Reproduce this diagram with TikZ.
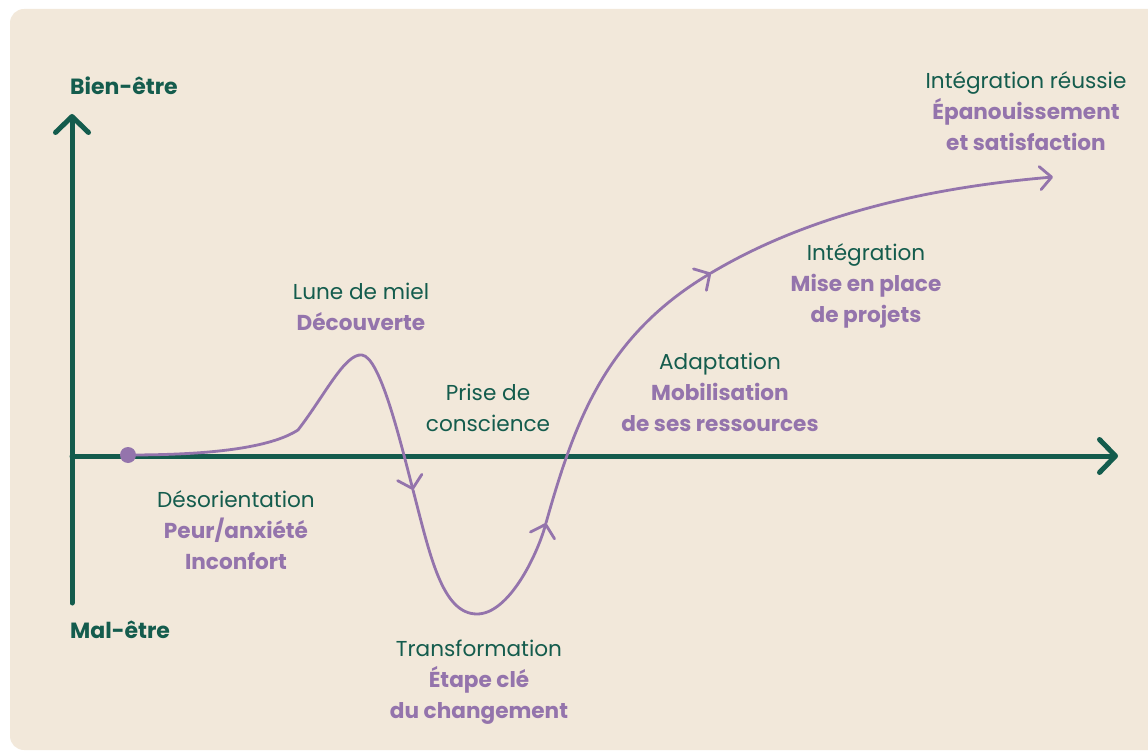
\documentclass[tikz,border=0pt]{standalone}
\usepackage{fontspec}
\setmainfont{Poppins}
\usetikzlibrary{arrows.meta}

\definecolor{paper}{RGB}{242,232,218}
\definecolor{axisgreen}{RGB}{20,92,77}
\definecolor{curvepurple}{RGB}{148,116,172}

% purple bold keyword inside a label
\newcommand\pv[1]{\textcolor{curvepurple}{\bfseries #1}}

\begin{document}
\begin{tikzpicture}[x=1pt,y=-1pt,
  axisline/.style={draw=axisgreen, line width=5pt, line cap=round,
    -{Straight Barb[length=16pt,width=33pt,round]}},
  curveline/.style={draw=curvepurple, line width=2.8pt, line cap=round},
  midtip/.style={-{Straight Barb[length=11.5pt,width=25pt,round]}},
  endtip/.style={-{Straight Barb[length=11.5pt,width=23pt,round]}},
  lbl/.style={align=center, inner sep=0pt, text=axisgreen,
    font=\fontsize{21.6}{31}\selectfont},
  axislbl/.style={anchor=west, inner sep=0pt, text=axisgreen,
    font=\fontsize{22}{26}\selectfont\bfseries}]

\useasboundingbox (0,0) rectangle (1148,751);
\begin{scope}
  \clip (0,0) rectangle (1148,751);
  \fill[paper, rounded corners=14pt] (10,9) rectangle (1190,750);
\end{scope}

% axes
\coordinate (origin) at (72,456);
\coordinate (ybottom) at (72,603);
\coordinate (ytop) at (72,114);
\coordinate (xright) at (1118,456);
\draw[axisline] (ybottom) -- (ytop);
\draw[axisline] (origin) -- (xright);

\node[axislbl] (wellbeing) at (70,86) {Bien-être};
\node[axislbl] (illbeing) at (70,630) {Mal-être};

% change curve
\coordinate (start) at (128,455);
\coordinate (peak) at (362,355);
\coordinate (turnA) at (413,490);
\coordinate (trough) at (477,614);
\coordinate (turnB) at (546,523);
\coordinate (turnC) at (711,273);
\coordinate (finish) at (1053,177);

\draw[curveline, midtip] (start) .. controls (210,455) and (270,448) .. (298,430)
  .. controls (325,395) and (345,353) .. (peak)
  .. controls (380,357) and (400,440) .. (turnA);
\draw[curveline, midtip] (turnA) .. controls (430,555) and (442,614) .. (trough)
  .. controls (509,614) and (537,555) .. (turnB);
\draw[curveline, midtip] (turnB) .. controls (575,420) and (606,336) .. (turnC);
\draw[curveline, endtip] (turnC) .. controls (818,209) and (947,186) .. (finish);

\fill[curvepurple] (start) circle (8pt);

% phase labels
\node[lbl] (honeymoon) at (361,307) {Lune de miel\\\pv{Découverte}};
\node[lbl] (awareness) at (488,408) {Prise de\\conscience};
\node[lbl] (disorient) at (236,530) {Désorientation\\\pv{Peur/anxiété}\\\pv{Inconfort}};
\node[lbl] (transform) at (479,682) {Transformation\\\pv{Étape clé}\\\pv{du changement}};
\node[lbl] (adapt) at (720,392) {Adaptation\\\pv{Mobilisation}\\\pv{de ses ressources}};
\node[lbl] (integr) at (866,286) {Intégration\\\pv{Mise en place}\\\pv{de projets}};
\node[lbl] (success) at (1026,111) {Intégration réussie\\\pv{Épanouissement}\\\pv{et satisfaction}};

\end{tikzpicture}
\end{document}
